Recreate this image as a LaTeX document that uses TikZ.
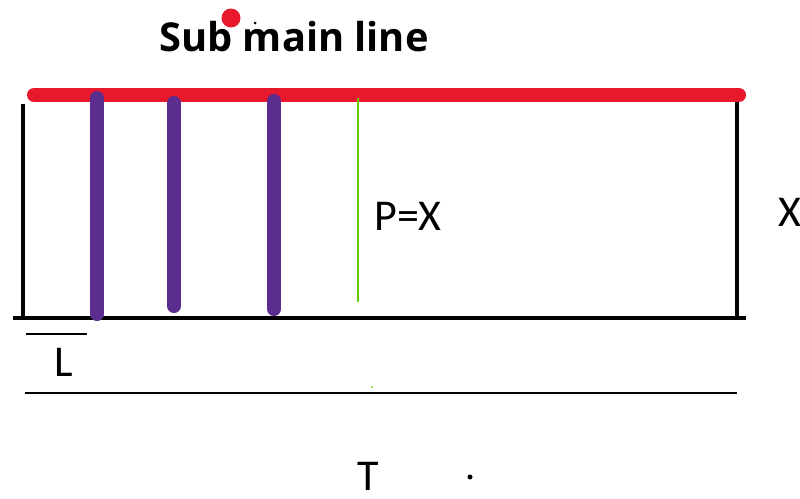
\documentclass[tikz,border=0pt]{standalone}
\usepackage{fontspec}
\setmainfont{Carlito}
\newfontfamily\titlefont{Open Sans}
\definecolor{rline}{HTML}{E8192C}
\definecolor{pline}{HTML}{5B2D8E}
\definecolor{gline}{HTML}{66CC00}
\begin{document}
\begin{tikzpicture}[x=1pt,y=-1pt,
  blk/.style={draw=black,line width=3.5pt},
  thin/.style={draw=black,line width=2pt},
  pipe/.style={draw=pline,line width=14pt,line cap=round},
  lbl/.style={inner sep=0pt,font=\fontsize{44}{50}\selectfont}]
\useasboundingbox (0,0) rectangle (800,498);
% corner coordinates
\coordinate (tl) at (23,104);
\coordinate (bl) at (23,318);
\coordinate (b0) at (13,318);
\coordinate (b1) at (746,318);
\coordinate (tr) at (737,100);
\coordinate (br) at (737,320);
\draw[blk] (tl) -- (bl);
\draw[blk] (tr) -- (br);
\draw[blk] (b0) -- (b1);
% red sub main line
\coordinate (r0) at (34,95);
\coordinate (r1) at (739,95);
\draw[draw=rline,line width=14pt,line cap=round] (r0) -- (r1);
% purple laterals
\coordinate (p1a) at (97,98); \coordinate (p1b) at (97,314);
\coordinate (p2a) at (174,103); \coordinate (p2b) at (174,306);
\coordinate (p3a) at (274,101); \coordinate (p3b) at (274,309);
\draw[pipe] (p1a) -- (p1b);
\draw[pipe] (p2a) -- (p2b);
\draw[pipe] (p3a) -- (p3b);
% green line
\coordinate (g0) at (358,98); \coordinate (g1) at (358,302);
\draw[draw=gline,line width=1.5pt] (g0) -- (g1);
\fill[gline] (372,387) circle (1pt);
% L measure
\coordinate (l0) at (26,334); \coordinate (l1) at (87,334);
\draw[thin] (l0) -- (l1);
% T measure
\coordinate (t0) at (25,393); \coordinate (t1) at (737,393);
\draw[thin] (t0) -- (t1);
% texts
\node[inner sep=0pt,font=\titlefont\bfseries\fontsize{39.8}{46}\selectfont] (title) at (294,37) {Sub main line};
\fill[rline] (231,18) circle (9.5pt);
\fill[black] (255,23) circle (1.5pt);
\node[lbl] (px) at (408,216) {P=X};
\node[lbl] (x) at (790,212) {X};
\node[lbl] (L) at (64,362) {L};
\node[lbl] (T) at (368,476) {T};
\fill[black] (470,477) circle (2.5pt);
\end{tikzpicture}
\end{document}
